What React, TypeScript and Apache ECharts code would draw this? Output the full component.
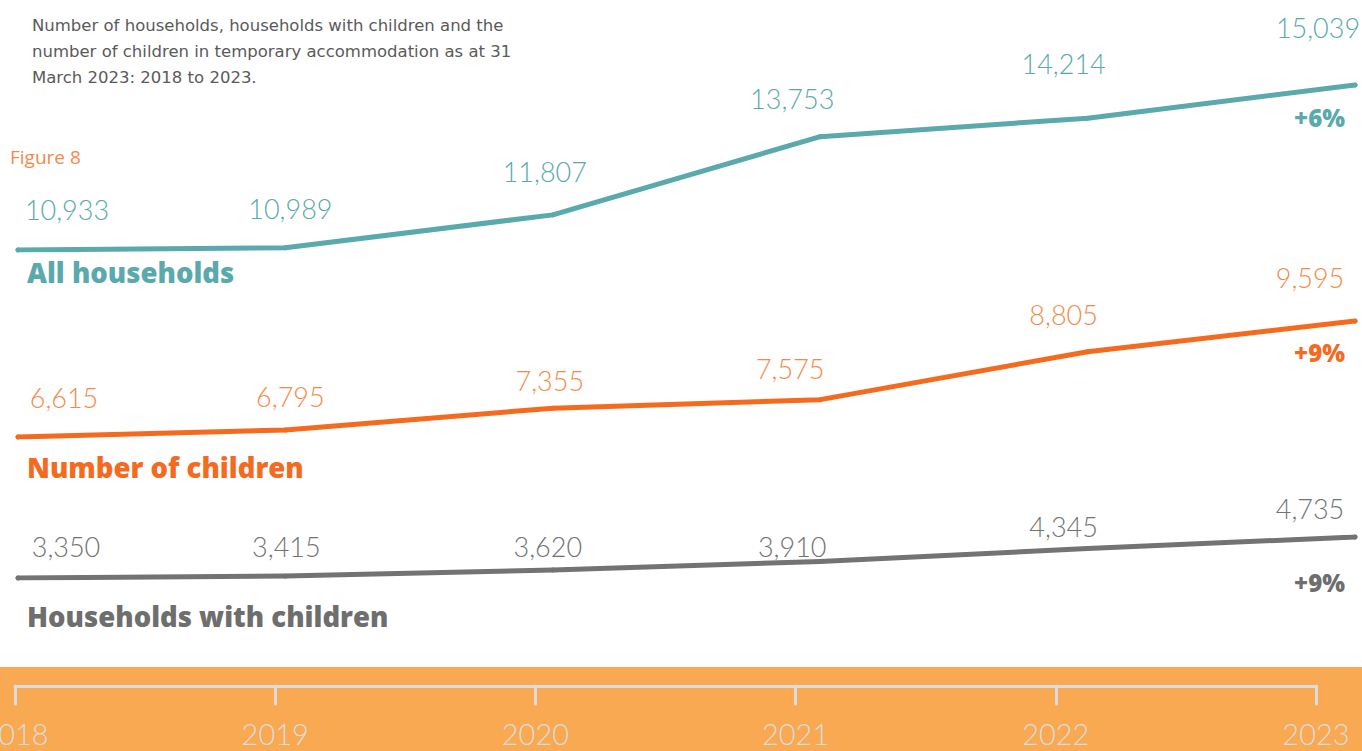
import React, { useEffect, useRef } from "react";
import * as echarts from "echarts";

const years = [2018, 2019, 2020, 2021, 2022, 2023];
const allHouseholds = [10933, 10989, 11807, 13753, 14214, 15039];
const numberOfChildren = [6615, 6795, 7355, 7575, 8805, 9595];
const householdsWithChildren = [3350, 3415, 3620, 3910, 4345, 4735];
const seriesNames = ["All households", "Number of children", "Households with children"];
const changeLabels = ["+6%", "+9%", "+9%"];
const titleLines = [
  "Number of households, households with children and the",
  "number of children in temporary accommodation as at 31",
  "March 2023: 2018 to 2023.",
];

// label layout (offsets from each point)
const tealOffsets = [[49, -41], [5, -39], [-8, -43], [-28, -38], [-24, -55], [-37, -58]];
const orangeOffsets = [[46, -40], [5, -33], [-3, -28], [-30, -31], [-24, -37], [-45, -44]];
const grayOffsets = [[48, -32], [1, -30], [-5, -24], [-28, -15], [-24, -22], [-45, -29]];

const TEAL = "#5AA9AC";
const ORANGE = "#F46A1F";
const ORANGE_LABEL = "#F5894A";
const GRAY = "#737373";
const GRAY_TEXT = "#6E6E6E";
const BAND = "#F8A951";
const AXIS = "#DCDCDC";
const FONT = "Lato, 'Open Sans', sans-serif";
const BOLD_FONT = "'Open Sans', Lato, sans-serif";

function fmt(v: number) {
  return v.toLocaleString("en-US");
}

function makeSeries(
  idx: number,
  values: number[],
  offsets: number[][],
  lineColor: string,
  labelColor: string
) {
  return {
    type: "line",
    xAxisIndex: idx,
    yAxisIndex: idx,
    symbol: "circle",
    symbolSize: 5,
    itemStyle: { color: lineColor },
    lineStyle: { color: lineColor, width: 5, cap: "round", join: "round" },
    z: 3,
    data: values.map((v, i) => ({
      value: [years[i], v],
      label: {
        show: true,
        position: "inside",
        offset: offsets[i],
        formatter: fmt(v),
        color: labelColor,
        fontSize: 27,
        fontWeight: 300,
        fontFamily: FONT,
        align: "center",
        verticalAlign: "middle",
      },
    })),
  };
}

function boldText(text: string, x: number, y: number, color: string, size: number, align = "left") {
  return {
    type: "text",
    x,
    y,
    style: {
      text,
      fill: color,
      fontSize: size,
      fontWeight: 800,
      fontFamily: BOLD_FONT,
      align,
      verticalAlign: "middle",
    },
  };
}

export default function App() {
  const ref = useRef<HTMLDivElement>(null);
  useEffect(() => {
    document.body.style.margin = "0";
    const chart = echarts.init(ref.current!, null, { renderer: "svg" });
    const hiddenX = (gi: number) => ({
      type: "value",
      gridIndex: gi,
      min: 2018,
      max: 2023,
      show: false,
    });
    const hiddenY = (gi: number, min: number, max: number) => ({
      type: "value",
      gridIndex: gi,
      min,
      max,
      show: false,
    });
    const option = {
      animation: false,
      backgroundColor: "#ffffff",
      grid: [
        { left: 18, right: 7, top: 85, height: 165, outerBoundsMode: "none" },
        { left: 18, right: 7, top: 321, height: 116, outerBoundsMode: "none" },
        { left: 18, right: 7, top: 537, height: 41, outerBoundsMode: "none" },
        { left: 15, right: 46, top: 684, height: 2, outerBoundsMode: "none", containLabel: false },
      ],
      xAxis: [
        hiddenX(0),
        hiddenX(1),
        hiddenX(2),
        {
          type: "value",
          gridIndex: 3,
          min: 2018,
          max: 2023,
          interval: 1,
          position: "bottom",
          axisLine: { show: true, lineStyle: { color: AXIS, width: 3 } },
          axisTick: { show: true, length: 18, lineStyle: { color: AXIS, width: 3, cap: "round" } },
          splitLine: { show: false },
          axisLabel: {
            show: true,
            margin: 33,
            color: AXIS,
            fontSize: 29,
            fontWeight: 300,
            fontFamily: FONT,
            formatter: (v: number) => String(v),
          },
        },
      ],
      yAxis: [
        hiddenY(0, allHouseholds[0], allHouseholds[5]),
        hiddenY(1, numberOfChildren[0], numberOfChildren[5]),
        hiddenY(2, householdsWithChildren[0], householdsWithChildren[5]),
        { type: "value", gridIndex: 3, show: false },
      ],
      series: [
        makeSeries(0, allHouseholds, tealOffsets, TEAL, TEAL),
        makeSeries(1, numberOfChildren, orangeOffsets, ORANGE, ORANGE_LABEL),
        makeSeries(2, householdsWithChildren, grayOffsets, GRAY, GRAY),
      ],
      graphic: [
        {
          type: "rect",
          z: -10,
          shape: { x: 0, y: 667, width: 1362, height: 84 },
          style: { fill: BAND },
          silent: true,
        },
        {
          type: "text",
          x: 32,
          y: 12,
          style: {
            text: titleLines.join("\n"),
            fill: "#5A5A5A",
            fontSize: 16.5,
            lineHeight: 26,
            fontFamily: "'DejaVu Sans', sans-serif",
          },
        },
        {
          type: "text",
          x: 10,
          y: 147,
          style: { text: "Figure 8", fill: "#F5894A", fontSize: 19, fontFamily: "'Open Sans', sans-serif" },
        },
        boldText(seriesNames[0], 27, 272, TEAL, 27.5),
        boldText(seriesNames[1], 27, 467, ORANGE, 27.5),
        boldText(seriesNames[2], 27, 616, GRAY_TEXT, 27.5),
        boldText(changeLabels[0], 1345, 117, TEAL, 24, "right"),
        boldText(changeLabels[1], 1345, 352, ORANGE, 24, "right"),
        boldText(changeLabels[2], 1345, 582, GRAY_TEXT, 24, "right"),
      ],
    };
    chart.setOption(option as any);
    return () => chart.dispose();
  }, []);
  return <div ref={ref} style={{ width: 1362, height: 751 }} />;
}
